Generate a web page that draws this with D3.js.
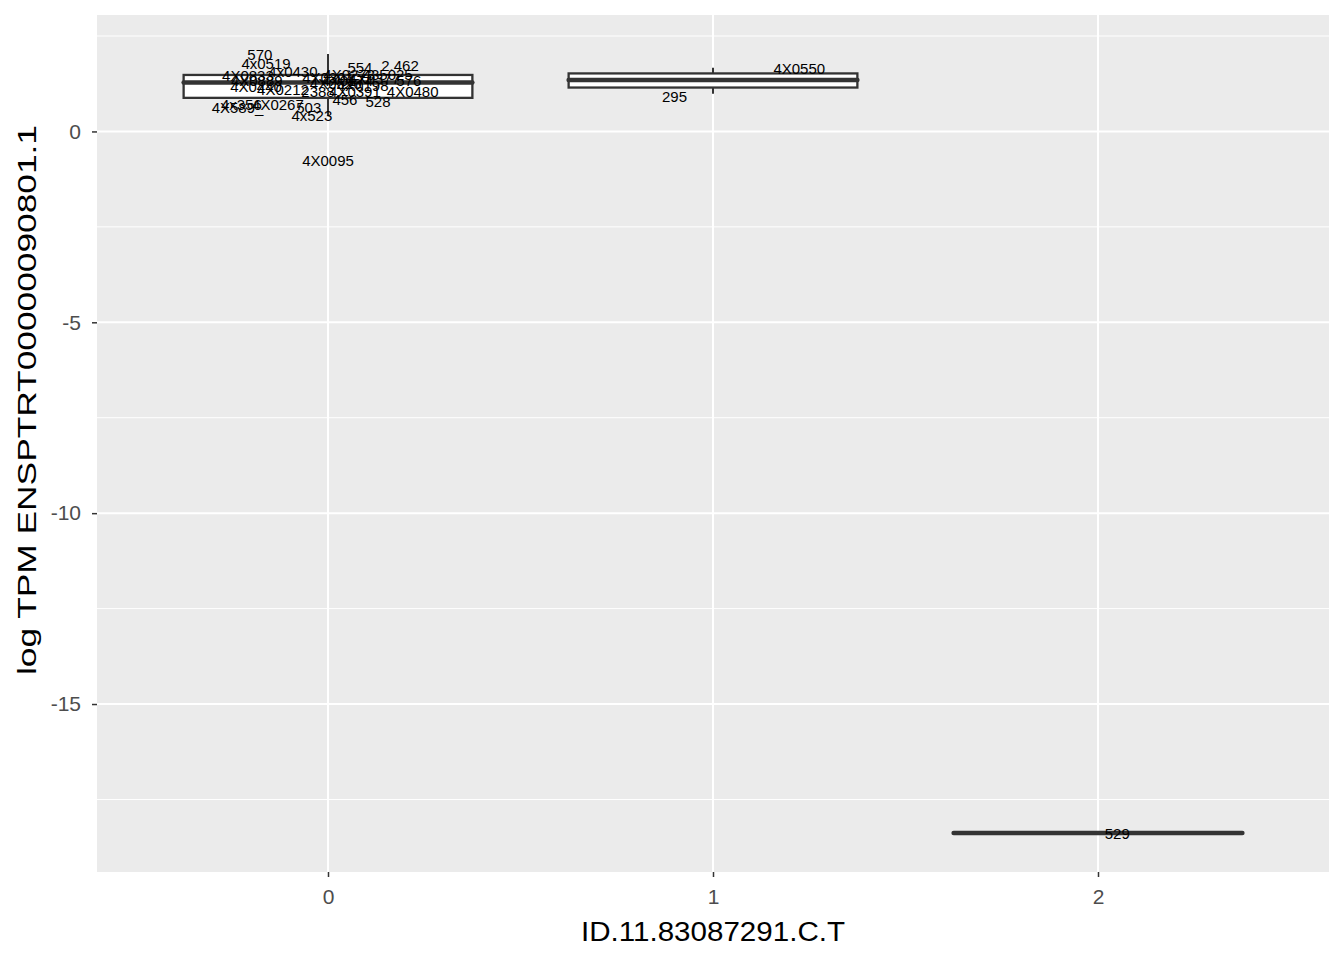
<!DOCTYPE html>
<html>
<head>
<meta charset="utf-8">
<script src="https://cdn.jsdelivr.net/npm/d3@7"></script>
<style>
  body { margin: 0; background: #fff; }
  text { font-family: "Liberation Sans", Arial, Helvetica, sans-serif; }
</style>
</head>
<body>
<div id="chart"></div>
<script>
// genotype groups and box stats
const groups = [0, 1, 2];
const lower  = [0.42, 0.99, -18.38];
const q1     = [0.88, 1.15, -18.38];
const median = [1.28, 1.35, -18.38];
const q3     = [1.48, 1.52, -18.38];
const upper  = [2.03, 1.67, -18.38];

// sample labels: name, jittered x, value
const labelNames = ["570", "4x0519", "4x0430", "4X0833", "4X0889", "4X0440", "4X0212", "2388",
  "4x356", "4X589_", "4X0267", "503", "4x523", "4X0095", "554", "2.462", "4X0273", "435025",
  "4X0174", "4X0377", "576", "4X0198", "4X0391", "4X0480", "456", "528", "4X0526", "4X0301",
  "4X0550", "295", "529"];
const labelX = [-0.177, -0.161, -0.091, -0.208, -0.185, -0.187, -0.117, -0.026,
  -0.225, -0.235, -0.13, -0.05, -0.042, 0.0, 0.083, 0.187, 0.055, 0.155,
  0.05, 0.12, 0.21, 0.09, 0.07, 0.22, 0.044, 0.13, 0.02, 0.0,
  1.224, 0.90, 2.05];
const labelY = [2.01, 1.79, 1.57, 1.45, 1.34, 1.18, 1.10, 1.05,
  0.71, 0.63, 0.71, 0.63, 0.42, -0.76, 1.67, 1.72, 1.49, 1.49,
  1.34, 1.38, 1.33, 1.20, 1.05, 1.05, 0.84, 0.78, 1.25, 1.40,
  1.65, 0.91, -18.40];

const yTicks = [0, -5, -10, -15];
const yMinor = [2.5, -2.5, -7.5, -12.5, -17.5];

const width = 1344, height = 960;
const margin = { top: 15, right: 15, bottom: 88, left: 97 };

const svg = d3.select("#chart").append("svg")
    .attr("width", width)
    .attr("height", height);

const x = d3.scaleLinear()
    .domain([-0.6, 2.6])
    .range([margin.left, width - margin.right]);

const allY = lower.concat(upper);
const lo = d3.min(allY), hi = d3.max(allY);
const pad = (hi - lo) * 0.05;
const y = d3.scaleLinear()
    .domain([lo - pad, hi + pad])
    .range([height - margin.bottom, margin.top]);

// panel
svg.append("rect")
    .attr("x", margin.left)
    .attr("y", margin.top)
    .attr("width", width - margin.left - margin.right)
    .attr("height", height - margin.top - margin.bottom)
    .attr("fill", "#ebebeb");

const grid = svg.append("g");
grid.selectAll(".minor")
    .data(yMinor)
    .join("line")
    .attr("x1", margin.left).attr("x2", width - margin.right)
    .attr("y1", d => y(d)).attr("y2", d => y(d))
    .attr("stroke", "#fff").attr("stroke-width", 1);
grid.selectAll(".major-y")
    .data(yTicks)
    .join("line")
    .attr("x1", margin.left).attr("x2", width - margin.right)
    .attr("y1", d => y(d)).attr("y2", d => y(d))
    .attr("stroke", "#fff").attr("stroke-width", 2);
grid.selectAll(".major-x")
    .data(groups)
    .join("line")
    .attr("x1", d => x(d)).attr("x2", d => x(d))
    .attr("y1", margin.top).attr("y2", height - margin.bottom)
    .attr("stroke", "#fff").attr("stroke-width", 2);

// boxplots
const boxW = 0.75;
const boxes = svg.append("g").selectAll("g")
    .data(groups)
    .join("g");

boxes.append("line")
    .attr("x1", d => x(d)).attr("x2", d => x(d))
    .attr("y1", (d, i) => y(upper[i])).attr("y2", (d, i) => y(q3[i]))
    .attr("stroke", "#333").attr("stroke-width", 2);
boxes.append("line")
    .attr("x1", d => x(d)).attr("x2", d => x(d))
    .attr("y1", (d, i) => y(lower[i])).attr("y2", (d, i) => y(q1[i]))
    .attr("stroke", "#333").attr("stroke-width", 2);
boxes.append("rect")
    .attr("x", d => x(d - boxW / 2))
    .attr("width", d => x(d + boxW / 2) - x(d - boxW / 2))
    .attr("y", (d, i) => y(q3[i]))
    .attr("height", (d, i) => y(q1[i]) - y(q3[i]))
    .attr("fill", "#fff")
    .attr("stroke", "#333").attr("stroke-width", 2.3);
boxes.append("line")
    .attr("x1", d => x(d - boxW / 2)).attr("x2", d => x(d + boxW / 2))
    .attr("y1", (d, i) => y(median[i])).attr("y2", (d, i) => y(median[i]))
    .attr("stroke", "#333").attr("stroke-width", 4.5)
    .attr("stroke-linecap", "round");

// sample labels
svg.append("g").selectAll("text")
    .data(labelNames)
    .join("text")
    .attr("x", (d, i) => x(labelX[i]))
    .attr("y", (d, i) => y(labelY[i]))
    .attr("dy", "0.36em")
    .attr("text-anchor", "middle")
    .attr("font-size", 15)
    .attr("fill", "#000")
    .text(d => d);

// axes
const fmt = d => String(d);
const xAxis = svg.append("g")
    .attr("transform", `translate(0,${height - margin.bottom})`)
    .call(d3.axisBottom(x).tickValues(groups).tickSize(5).tickPadding(12).tickFormat(fmt));
const yAxis = svg.append("g")
    .attr("transform", `translate(${margin.left},0)`)
    .call(d3.axisLeft(y).tickValues(yTicks).tickSize(5).tickPadding(11).tickFormat(fmt));

[xAxis, yAxis].forEach(a => {
    a.select(".domain").remove();
    a.selectAll(".tick line").attr("stroke", "#333").attr("stroke-width", 1.5);
    a.selectAll(".tick text").attr("fill", "#4d4d4d").attr("font-size", 21);
});

// titles
svg.append("text")
    .attr("x", 581)
    .attr("y", 941)
    .attr("font-size", 27)
    .attr("textLength", 264)
    .attr("lengthAdjust", "spacingAndGlyphs")
    .text("ID.11.83087291.C.T");

svg.append("text")
    .attr("transform", "translate(36,675) rotate(-90)")
    .attr("font-size", 26)
    .attr("textLength", 550)
    .attr("lengthAdjust", "spacingAndGlyphs")
    .text("log TPM ENSPTRT00000090801.1");
</script>
</body>
</html>
